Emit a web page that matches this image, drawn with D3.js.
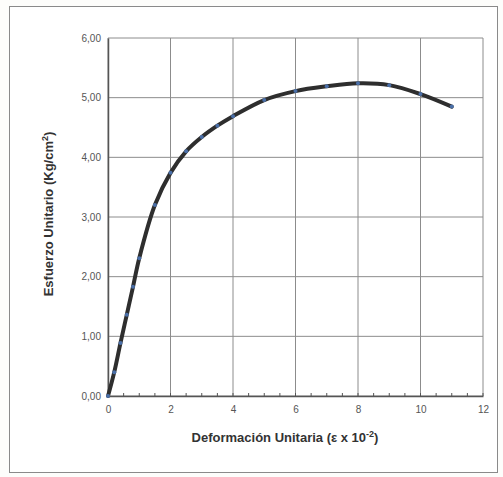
<!DOCTYPE html>
<html>
<head>
<meta charset="utf-8">
<script src="https://cdn.jsdelivr.net/npm/d3@7"></script>
<style>
  body { margin: 0; background: #fdfdfb; }
  svg { display: block; font-family: Arial, "Liberation Sans", sans-serif; }
</style>
</head>
<body>
<svg id="chart" width="503" height="477"></svg>
<script>
'use strict';
// deformación unitaria (x 10^-2)
var strain = [0, 0.2, 0.4, 0.6, 0.8, 1.0, 1.5, 2, 2.5, 3, 3.5, 4, 5, 6, 7, 8, 9, 10, 11];
// esfuerzo unitario (Kg/cm2)
var stress = [0, 0.40, 0.89, 1.36, 1.83, 2.31, 3.2, 3.74, 4.1, 4.34, 4.53, 4.69, 4.96, 5.11, 5.19, 5.24, 5.21, 5.06, 4.85];
var xTicks = [0, 2, 4, 6, 8, 10, 12];
var yTicks = [0, 1, 2, 3, 4, 5, 6];

var svg = d3.select('#chart');
var plotL = 108, plotR = 483, plotT = 38, plotB = 396;

var x = d3.scaleLinear().domain([0, 12]).range([plotL, plotR]);
var y = d3.scaleLinear().domain([0, 6]).range([plotB, plotT]);
var fmt = function(v){ return d3.format('.2f')(v).replace('.', ','); };

// outer frame
svg.append('rect')
   .attr('x', 9.5).attr('y', 6.5).attr('width', 488).attr('height', 466)
   .style('fill', '#fff').style('stroke', '#8a8a8a').style('stroke-width', 1);

// grid
var grid = svg.append('g').attr('id', 'grid');
grid.selectAll('line.v').data(xTicks).enter().append('line')
    .attr('x1', function(d){ return x(d); }).attr('x2', function(d){ return x(d); })
    .attr('y1', plotT).attr('y2', plotB)
    .style('stroke', '#8c8c8c').style('stroke-width', 1);
grid.selectAll('line.h').data(yTicks).enter().append('line')
    .attr('x1', plotL).attr('x2', plotR)
    .attr('y1', function(d){ return y(d); }).attr('y2', function(d){ return y(d); })
    .style('stroke', '#8c8c8c').style('stroke-width', 1);

// axes
var xAxis = d3.axisBottom(x).tickValues(xTicks).tickSize(0).tickPadding(10).tickFormat(d3.format('d'));
var yAxis = d3.axisLeft(y).tickValues(yTicks).tickSize(0).tickPadding(7).tickFormat(fmt);

svg.append('g').attr('transform', 'translate(0,' + plotB + ')').call(xAxis)
   .call(function(g){ g.select('.domain').style('stroke', '#555').style('stroke-width', 1.5); })
   .selectAll('text').style('font-size', '10px').style('fill', '#555');
svg.append('g').attr('transform', 'translate(' + plotL + ',0)').call(yAxis)
   .call(function(g){ g.select('.domain').style('stroke', '#555').style('stroke-width', 1.5); })
   .selectAll('text').style('font-size', '10px').style('fill', '#555');

// minor ticks on x axis
svg.append('g').selectAll('line').data(d3.range(0, 12.01, 0.5)).enter().append('line')
   .attr('x1', function(d){ return x(d); }).attr('x2', function(d){ return x(d); })
   .attr('y1', plotB).attr('y2', plotB - 3)
   .style('stroke', '#555').style('stroke-width', 1);

// curve
var pts = strain.map(function(d, i){ return [d, stress[i]]; });
var line = d3.line()
    .x(function(d){ return x(d[0]); })
    .y(function(d){ return y(d[1]); })
    .curve(d3.curveCatmullRom);
svg.append('path').datum(pts)
   .attr('d', line)
   .style('fill', 'none').style('stroke', '#2e2e2e').style('stroke-width', 4)
   .style('stroke-linecap', 'round');
svg.append('g').selectAll('circle').data(pts).enter().append('circle')
   .attr('cx', function(d){ return x(d[0]); })
   .attr('cy', function(d){ return y(d[1]); })
   .attr('r', 2)
   .style('fill', '#4a6fa8');

// titles
svg.append('text')
   .attr('x', 285).attr('y', 442)
   .style('text-anchor', 'middle').style('font-size', '13px').style('font-weight', 'bold').style('fill', '#333')
   .html('Deformación Unitaria (ε x 10<tspan dy="-5" font-size="9px">-2</tspan><tspan dy="5">)</tspan>');
svg.append('text')
   .attr('transform', 'translate(53,214) rotate(-90)')
   .style('text-anchor', 'middle').style('font-size', '13px').style('font-weight', 'bold').style('fill', '#333')
   .html('Esfuerzo Unitario (Kg/cm<tspan dy="-5" font-size="9px">2</tspan><tspan dy="5">)</tspan>');
</script>
</body>
</html>
